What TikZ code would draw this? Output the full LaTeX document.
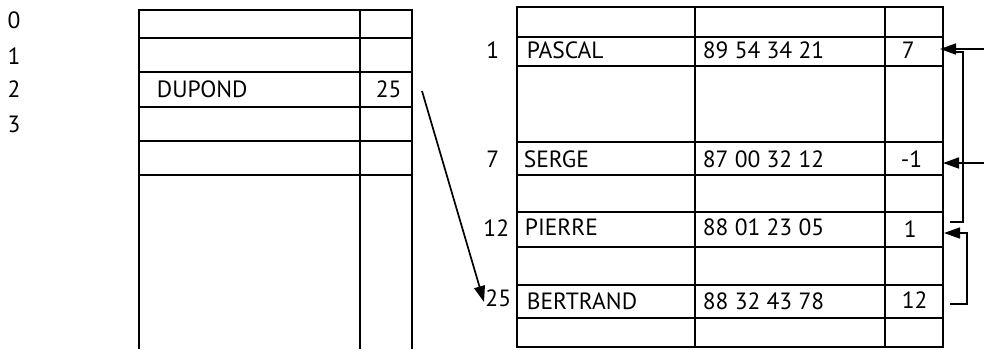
\documentclass[tikz,border=0pt]{standalone}
\usepackage{fontspec}
\setmainfont{PT Sans}
\usetikzlibrary{arrows.meta}
\begin{document}
\begin{tikzpicture}[x=1pt,y=-1pt,line width=1.8pt,
  txt/.style={inner sep=0pt,anchor=base west,font=\fontsize{23.5}{27}\selectfont},
  lab/.style={inner sep=0pt,anchor=base,font=\fontsize{23.5}{27}\selectfont},
  rlab/.style={inner sep=0pt,anchor=base east,font=\fontsize{23.5}{27}\selectfont},
  arr/.style={line width=1.7pt,-{Triangle[length=16pt,width=11pt]}},
  link/.style={line width=1.7pt}]
\useasboundingbox (0,0) rectangle (984,349);
% left table
\draw (139,349) -- (139,10) -- (412,10) -- (412,349);
\draw (360,10) -- (360,349);
\foreach \y in {38,72,107,141,175} \draw (139,\y) -- (412,\y);
% index labels
\node[lab] (i0) at (14,28) {0};
\node[lab] (i1) at (14,64) {1};
\node[lab] (i2) at (14,97) {2};
\node[lab] (i3) at (14,132) {3};
\node[txt] (dup) at (156,97) {DUPOND};
\node[txt] (d25) at (375,97) {25};
% right table
\draw (517,7) rectangle (943,347);
\draw (695,7) -- (695,347);
\draw (885,7) -- (885,347);
\foreach \y in {37,66,142,175,212,247,285,318} \draw (517,\y) -- (943,\y);
% row labels
\node[rlab] (r1) at (500,58) {1};
\node[rlab] (r7) at (500,167) {7};
\node[rlab] (r12) at (510,236) {12};
\node[rlab] (r25) at (512,306) {25};
% names
\node[txt] (pascal) at (526,58) {PASCAL};
\node[txt] (serge) at (523,167) {SERGE};
\node[txt] (pierre) at (524,235) {PIERRE};
\node[txt] (bertrand) at (526,309) {BERTRAND};
% phones
\node[txt] (p1) at (702,58) {89 54 34 21};
\node[txt] (p2) at (702,167) {87 00 32 12};
\node[txt] (p3) at (702,235) {88 01 23 05};
\node[txt] (p4) at (702,309) {88 32 43 78};
% next values
\node[txt] (v1) at (901,58) {7};
\node[txt] (v2) at (900,167) {-1};
\node[txt] (v3) at (903,237) {1};
\node[txt] (v4) at (901,308) {12};
% connectors
\coordinate (a1s) at (422,91);
\coordinate (a1e) at (484,302);
\draw[arr] (a1s) -- (a1e);
\coordinate (in1) at (984,49);
\coordinate (t1) at (940,49);
\draw[arr] (in1) -- (t1);
\coordinate (in2) at (984,163);
\coordinate (t2) at (943,163);
\draw[arr] (in2) -- (t2);
\coordinate (b1s) at (950,222);
\coordinate (b1e) at (954,52);
\draw[link] (b1s) -- (963,222) -- (963,52) -- (b1e);
\coordinate (b2s) at (950,304);
\coordinate (t3) at (944,233);
\draw[arr] (b2s) -- (967,304) -- (967,233) -- (t3);
\end{tikzpicture}
\end{document}
